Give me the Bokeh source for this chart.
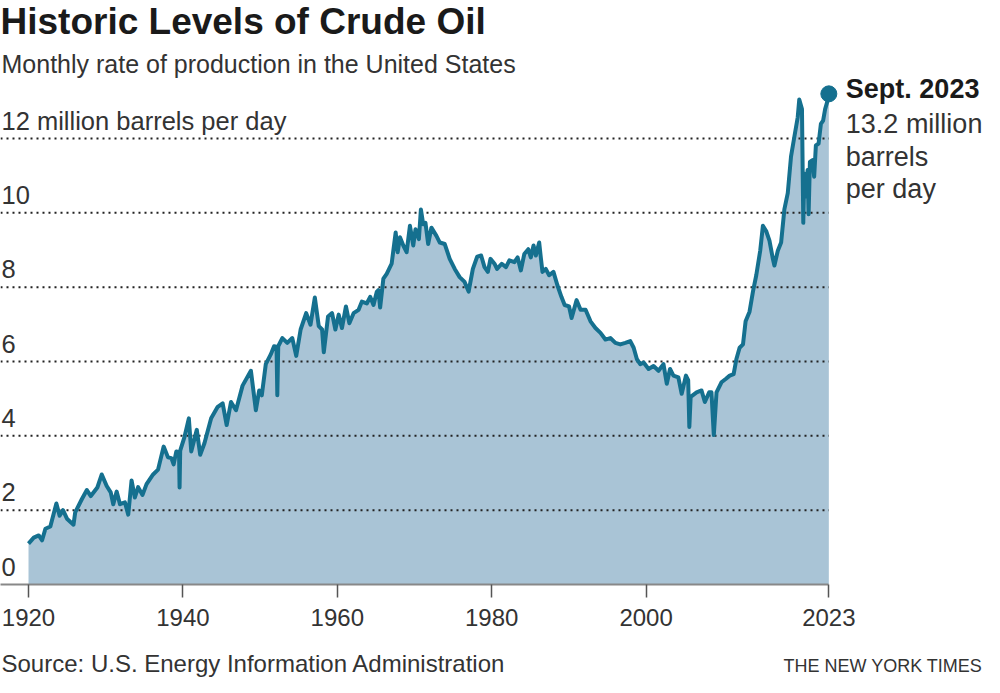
from bokeh.plotting import figure
from bokeh.layouts import column
from bokeh.models import Range1d, FixedTicker
from bokeh.core.properties import value
from bokeh.embed import file_html
from bokeh.resources import INLINE

# ---- data ----
years = [1920.0, 1920.68, 1921.33, 1921.76, 1922.19, 1922.83, 1923.61, 1924.03, 1924.47, 1924.98,
         1925.83, 1926.05, 1926.92, 1927.56, 1928.07, 1928.92, 1929.49, 1930.13, 1930.65, 1930.98,
         1931.42, 1931.85, 1932.49, 1932.92, 1933.35, 1933.78, 1934.20, 1934.77, 1935.29, 1936.14,
         1936.78, 1937.51, 1938.07, 1938.51, 1938.80, 1939.15, 1939.50, 1939.57, 1939.65, 1940.22,
         1940.77, 1941.08, 1941.80, 1942.24, 1942.79, 1943.66, 1944.51, 1945.15, 1945.67, 1946.23,
         1946.88, 1947.73, 1948.81, 1949.45, 1949.88, 1950.22, 1950.74, 1951.38, 1951.81, 1952.13,
         1952.23, 1952.35, 1952.88, 1953.52, 1954.17, 1954.68, 1955.25, 1955.97, 1956.53, 1957.09,
         1957.60, 1958.03, 1958.25, 1958.80, 1959.32, 1959.75, 1960.18, 1960.60, 1961.12, 1961.56,
         1962.11, 1962.76, 1963.18, 1963.82, 1964.26, 1964.69, 1965.11, 1965.33, 1965.55, 1965.97,
         1966.40, 1967.04, 1967.56, 1967.82, 1968.12, 1968.55, 1968.98, 1969.41, 1969.84, 1970.13,
         1970.57, 1970.83, 1971.13, 1971.42, 1971.77, 1972.19, 1972.84, 1973.28, 1973.92, 1974.56,
         1975.21, 1975.85, 1976.49, 1977.01, 1977.56, 1978.12, 1978.63, 1979.07, 1979.50, 1979.84,
         1980.36, 1980.69, 1981.30, 1981.85, 1982.29, 1982.94, 1983.36, 1983.78, 1984.22, 1984.74,
         1985.07, 1985.42, 1985.72, 1986.15, 1986.36, 1986.58, 1987.00, 1987.44, 1988.00, 1988.51,
         1989.03, 1989.45, 1990.02, 1990.35, 1991.00, 1991.51, 1992.16, 1992.80, 1993.44, 1994.09,
         1994.73, 1995.37, 1996.02, 1996.66, 1997.31, 1997.95, 1998.39, 1998.81, 1999.24, 1999.68,
         2000.32, 2000.96, 2001.61, 2002.25, 2002.68, 2003.10, 2003.54, 2004.18, 2004.61, 2005.16,
         2005.45, 2005.60, 2005.77, 2006.03, 2006.54, 2007.18, 2007.61, 2008.17, 2008.47, 2008.77,
         2009.12, 2009.76, 2010.31, 2010.83, 2011.34, 2011.69, 2012.11, 2012.55, 2012.89, 2013.40,
         2013.84, 2014.27, 2014.78, 2015.13, 2015.55, 2015.98, 2016.42, 2016.62, 2017.06, 2017.49,
         2017.91, 2018.35, 2018.77, 2019.20, 2019.64, 2019.84, 2020.19, 2020.36, 2020.49, 2020.80,
         2020.92, 2021.05, 2021.22, 2021.56, 2021.77, 2021.99, 2022.34, 2022.64, 2022.93, 2023.19,
         2023.50, 2023.67]

production = [1.10, 1.26, 1.32, 1.19, 1.50, 1.56, 2.18, 1.85, 2.00, 1.77,
              1.61, 1.94, 2.30, 2.54, 2.38, 2.61, 2.96, 2.65, 2.48, 2.16,
              2.50, 2.16, 2.21, 1.88, 2.80, 2.34, 2.62, 2.41, 2.70, 2.96,
              3.09, 3.71, 3.42, 3.40, 3.23, 3.58, 3.55, 2.61, 3.60, 3.98,
              4.47, 3.58, 4.16, 3.49, 3.80, 4.47, 4.78, 4.87, 4.29, 4.91,
              4.69, 5.35, 5.75, 4.69, 5.22, 5.09, 5.93, 6.19, 6.41, 6.40,
              5.09, 6.41, 6.63, 6.50, 6.63, 6.15, 6.86, 7.30, 6.99, 7.72,
              6.95, 6.86, 6.25, 7.21, 7.30, 6.86, 7.26, 6.90, 7.48, 7.03,
              7.30, 7.39, 7.61, 7.56, 7.74, 7.52, 7.87, 7.92, 7.45, 8.23,
              8.36, 8.63, 9.47, 8.94, 9.34, 9.12, 8.94, 9.65, 9.12, 9.56,
              9.29, 10.09, 9.69, 9.73, 9.16, 9.60, 9.38, 9.20, 9.16, 8.76,
              8.49, 8.27, 8.14, 7.88, 8.49, 8.82, 8.85, 8.54, 8.41, 8.76,
              8.63, 8.49, 8.63, 8.54, 8.72, 8.67, 8.80, 8.45, 8.89, 9.02,
              8.80, 9.12, 8.85, 9.20, 8.80, 8.41, 8.49, 8.32, 8.41, 8.05,
              7.74, 7.52, 7.48, 7.17, 7.65, 7.39, 7.39, 7.08, 6.90, 6.77,
              6.59, 6.63, 6.50, 6.46, 6.50, 6.55, 6.37, 6.06, 5.93, 5.97,
              5.80, 5.88, 5.75, 5.93, 5.40, 5.80, 5.62, 5.57, 5.13, 5.62,
              5.50, 4.24, 5.05, 5.09, 5.17, 5.22, 4.91, 5.17, 5.17, 4.02,
              5.17, 5.44, 5.53, 5.62, 5.66, 6.06, 6.37, 6.46, 7.08, 7.34,
              7.88, 8.32, 8.98, 9.65, 9.51, 9.25, 8.76, 8.58, 8.98, 9.20,
              10.09, 10.53, 11.51, 12.04, 12.57, 13.05, 12.79, 9.73, 11.06, 10.44,
              11.15, 9.96, 11.37, 11.42, 10.97, 11.81, 11.86, 12.39, 12.48, 12.79,
              13.01, 13.20]

grid_values = [2, 4, 6, 8, 10, 12]
y_label_values = [0, 2, 4, 6, 8, 10, 12]
y_label_texts = ["0", "2", "4", "6", "8", "10", "12 million barrels per day"]
x_ticks = [1920, 1940, 1960, 1980, 2000, 2023.67]
x_tick_labels = ["1920", "1940", "1960", "1980", "2000", "2023"]
annotation_lines = ["Sept. 2023", "13.2 million", "barrels", "per day"]

title_text = "Historic Levels of Crude Oil"
subtitle_text = "Monthly rate of production in the United States"
source_text = "Source: U.S. Energy Information Administration"
credit_text = "THE NEW YORK TIMES"

# ---- styling / layout constants ----
FONT = "Liberation Sans"
LINE_COLOR = "#15708f"
FILL_COLOR = "#a9c4d6"
TEXT_DARK = "#1a1a1a"
TEXT = "#333333"

W = 984
FRAME_H = 584          # frame height; bottom of frame is y = 0
PX_PER_YEAR = 7.72
PX_PER_UNIT = 37.17
FIRST_X_PX = 28        # where 1920 sits
X0 = 1920 - FIRST_X_PX / PX_PER_YEAR
X1 = X0 + W / PX_PER_YEAR
Y1 = FRAME_H / PX_PER_UNIT
X_END = years[-1]
SHIFT = 0.37           # renderer draws "alphabetic" text this many em lower


def yv(canvas_y, size):
    """value whose rendered baseline lands on a canvas pixel row of the main frame"""
    return (FRAME_H - (canvas_y - SHIFT * size)) / PX_PER_UNIT


p = figure(width=W, height=FRAME_H + 60,
           x_range=Range1d(X0, X1), y_range=Range1d(0, Y1),
           output_backend="svg", toolbar_location=None, y_axis_location=None,
           title=None, min_border_left=0, min_border_right=0,
           min_border_top=0, min_border_bottom=60)
p.outline_line_color = None
p.background_fill_color = "white"
p.border_fill_color = "white"
p.xgrid.visible = False
p.ygrid.visible = False

# area + gridlines + line
p.varea(x=years, y1=0, y2=production, fill_color=FILL_COLOR)
n = len(grid_values)
p.segment(x0=[X0] * n, x1=[X_END] * n, y0=grid_values, y1=grid_values,
          line_color="#222222", line_width=2, line_dash="2 4")
p.line(years, production, line_color=LINE_COLOR, line_width=4, line_join="round")
p.scatter(x=[years[-1]], y=[production[-1]], size=16, color=LINE_COLOR)

# x axis
xa = p.xaxis[0]
xa.bounds = (X0, X_END)
xa.ticker = FixedTicker(ticks=x_ticks)
xa.major_label_overrides = dict(zip(x_ticks, x_tick_labels))
xa.minor_tick_line_color = None
xa.major_tick_in = 0
xa.major_tick_out = 13
xa.major_tick_line_color = "#555555"
xa.major_tick_line_width = 1.5
xa.axis_line_color = "#888888"
xa.axis_line_width = 2
xa.major_label_text_font = FONT
xa.major_label_text_font_size = "24px"
xa.major_label_text_color = TEXT
xa.major_label_standoff = 11

# y labels (inside plot, above gridlines)
YL = 25.5
p.text(x=[X0 + 1 / PX_PER_YEAR] * len(y_label_values),
       y=[v + (8.5 + SHIFT * YL) / PX_PER_UNIT for v in y_label_values], text=y_label_texts,
       text_font=value(FONT), text_font_size=f"{YL}px", text_color=TEXT,
       text_baseline="alphabetic", text_align="left")

# title / subtitle
p.text(x=[X0], y=[yv(35, 37)], text=[title_text], text_font=value(FONT),
       text_font_size="37px", text_font_style="bold", text_color=TEXT_DARK,
       text_baseline="alphabetic", text_align="left")
p.text(x=[X0 + 1 / PX_PER_YEAR], y=[yv(72.5, 25)], text=[subtitle_text], text_font=value(FONT),
       text_font_size="25px", text_color=TEXT,
       text_baseline="alphabetic", text_align="left")

# end annotation
ann_baselines = [98, 133, 166, 198]
ann_x = X_END + 17 / PX_PER_YEAR
for i, (t, b) in enumerate(zip(annotation_lines, ann_baselines)):
    p.text(x=[ann_x], y=[yv(b, 27)], text=[t], text_font=value(FONT),
           text_font_size="27px",
           text_font_style="bold" if i == 0 else "normal",
           text_color=TEXT_DARK if i == 0 else TEXT,
           text_baseline="alphabetic", text_align="left")

# footer (source / credit)
FOOT_H = 33
FOOT_BASE = 5            # visual baseline this many px above the canvas bottom
f = figure(width=W, height=FOOT_H, x_range=Range1d(0, W), y_range=Range1d(0, FOOT_H),
           output_backend="svg", toolbar_location=None, x_axis_location=None,
           y_axis_location=None, title=None, min_border=0)
f.outline_line_color = None
f.xgrid.visible = False
f.ygrid.visible = False
f.text(x=[1], y=[FOOT_BASE + SHIFT * 24], text=[source_text], text_font=value(FONT),
       text_font_size="24px", text_color=TEXT, text_baseline="alphabetic", text_align="left")
f.text(x=[W - 2], y=[FOOT_BASE + SHIFT * 18], text=[credit_text], text_font=value(FONT),
       text_font_size="18px", text_color=TEXT, text_baseline="alphabetic", text_align="right")

layout = column(p, f, spacing=0)
open("out.html", "w").write(file_html(layout, INLINE))
